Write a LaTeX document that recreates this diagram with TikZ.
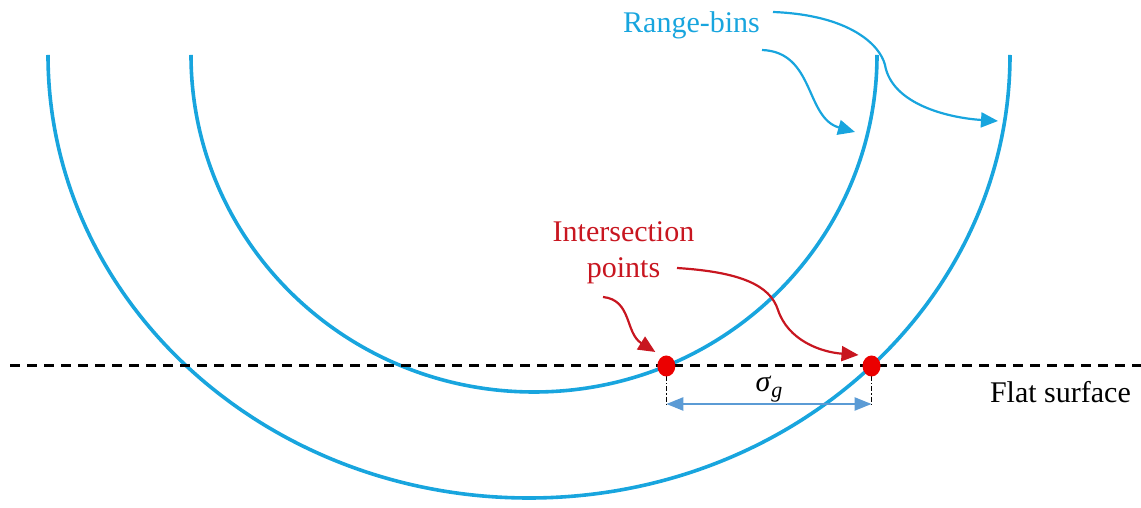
\documentclass[tikz,border=0pt]{standalone}
\usepackage{fontspec}
\setmainfont{Liberation Serif}
\usetikzlibrary{arrows.meta,intersections,shapes.geometric,calc}
\definecolor{binblue}{RGB}{24,165,222}
\definecolor{ptred}{RGB}{200,22,32}
\definecolor{dotred}{RGB}{235,0,0}
\definecolor{dimblue}{RGB}{91,155,213}
\begin{document}
\begin{tikzpicture}[x=1pt,y=1pt,
  bin/.style={binblue, line width=3.6pt},
  surface/.style={black, line width=3pt, dash pattern=on 10pt off 7pt},
  guide/.style={black, line width=1.2pt, dash pattern=on 5pt off 2pt on 1.2pt off 2pt},
  dim/.style={dimblue, line width=2.4pt, {Triangle[length=17pt,width=13pt]}-{Triangle[length=17pt,width=13pt]}},
  bincallout/.style={binblue, line width=2.2pt, -{Triangle[length=17pt,width=15pt]}},
  ptcallout/.style={ptred, line width=2.2pt, -{Triangle[length=17pt,width=15pt]}},
  pt/.style={ellipse, fill=dotred, inner sep=0pt, minimum width=18pt, minimum height=21pt},
  lbl/.style={font=\fontsize{30}{36}\selectfont, inner sep=0pt}]
\useasboundingbox (0,0) rectangle (1141,508);
% range bins
\draw[bin, name path=inner] (191,453) arc[start angle=180,end angle=360,x radius=343pt,y radius=337pt];
\draw[bin, name path=outer] (48,453) arc[start angle=180,end angle=360,x radius=481pt,y radius=443pt];
% flat surface
\coordinate (sL) at (10,142);
\coordinate (sR) at (1141,142);
\draw[surface, name path=surf] (sL) -- (sR);
\path[name intersections={of=surf and inner, sort by=surf, name=ii}];
\path[name intersections={of=surf and outer, sort by=surf, name=oo}];
% guides and spacing arrow
\coordinate (g1) at (ii-2 |- 0,104);
\coordinate (g2) at (oo-2 |- 0,104);
\draw[guide] (ii-2) -- (g1);
\draw[guide] (oo-2) -- (g2);
\draw[dim] (g1) -- (g2);
\node[lbl, anchor=base] (sg) at ($(g1)!0.5!(g2)+(0,12)$) {\itshape σ\kern1pt\raisebox{-6pt}{\fontsize{22}{24}\selectfont g}};
% intersection points
\node[pt] (p1) at (ii-2) {};
\node[pt] (p2) at (oo-2) {};
% labels
\node[lbl, anchor=base east] (fs) at (1131,105) {Flat surface};
\node[lbl, anchor=base west, text=binblue] (rb) at (623,475) {Range-bins};
\node[lbl, anchor=base, text=ptred] (ip1) at (623.5,266) {Intersection};
\node[lbl, anchor=base, text=ptred] (ip2) at (623.5,230) {points};
% callouts
\coordinate (rbA) at (762,458);
\coordinate (rbB) at (773,496);
\coordinate (tA) at (855,376);
\coordinate (tB) at (998,387);
\draw[bincallout] (rbA) .. controls (815,456) and (805,390) .. (tA);
\draw[bincallout] (rbB) .. controls (850,493) and (880,463) .. (885,443) .. controls (892,403) and (950,390) .. (tB);
\coordinate (ipA) at (603,211);
\coordinate (ipB) at (677,240);
\draw[ptcallout] (ipA) .. controls (632,208) and (625,175) .. ($(p1)+(-11,14)$);
\draw[ptcallout] (ipB) .. controls (740,236) and (770,223) .. (778,198) .. controls (788,168) and (820,156) .. ($(p2)+(-13,11)$);
\end{tikzpicture}
\end{document}
